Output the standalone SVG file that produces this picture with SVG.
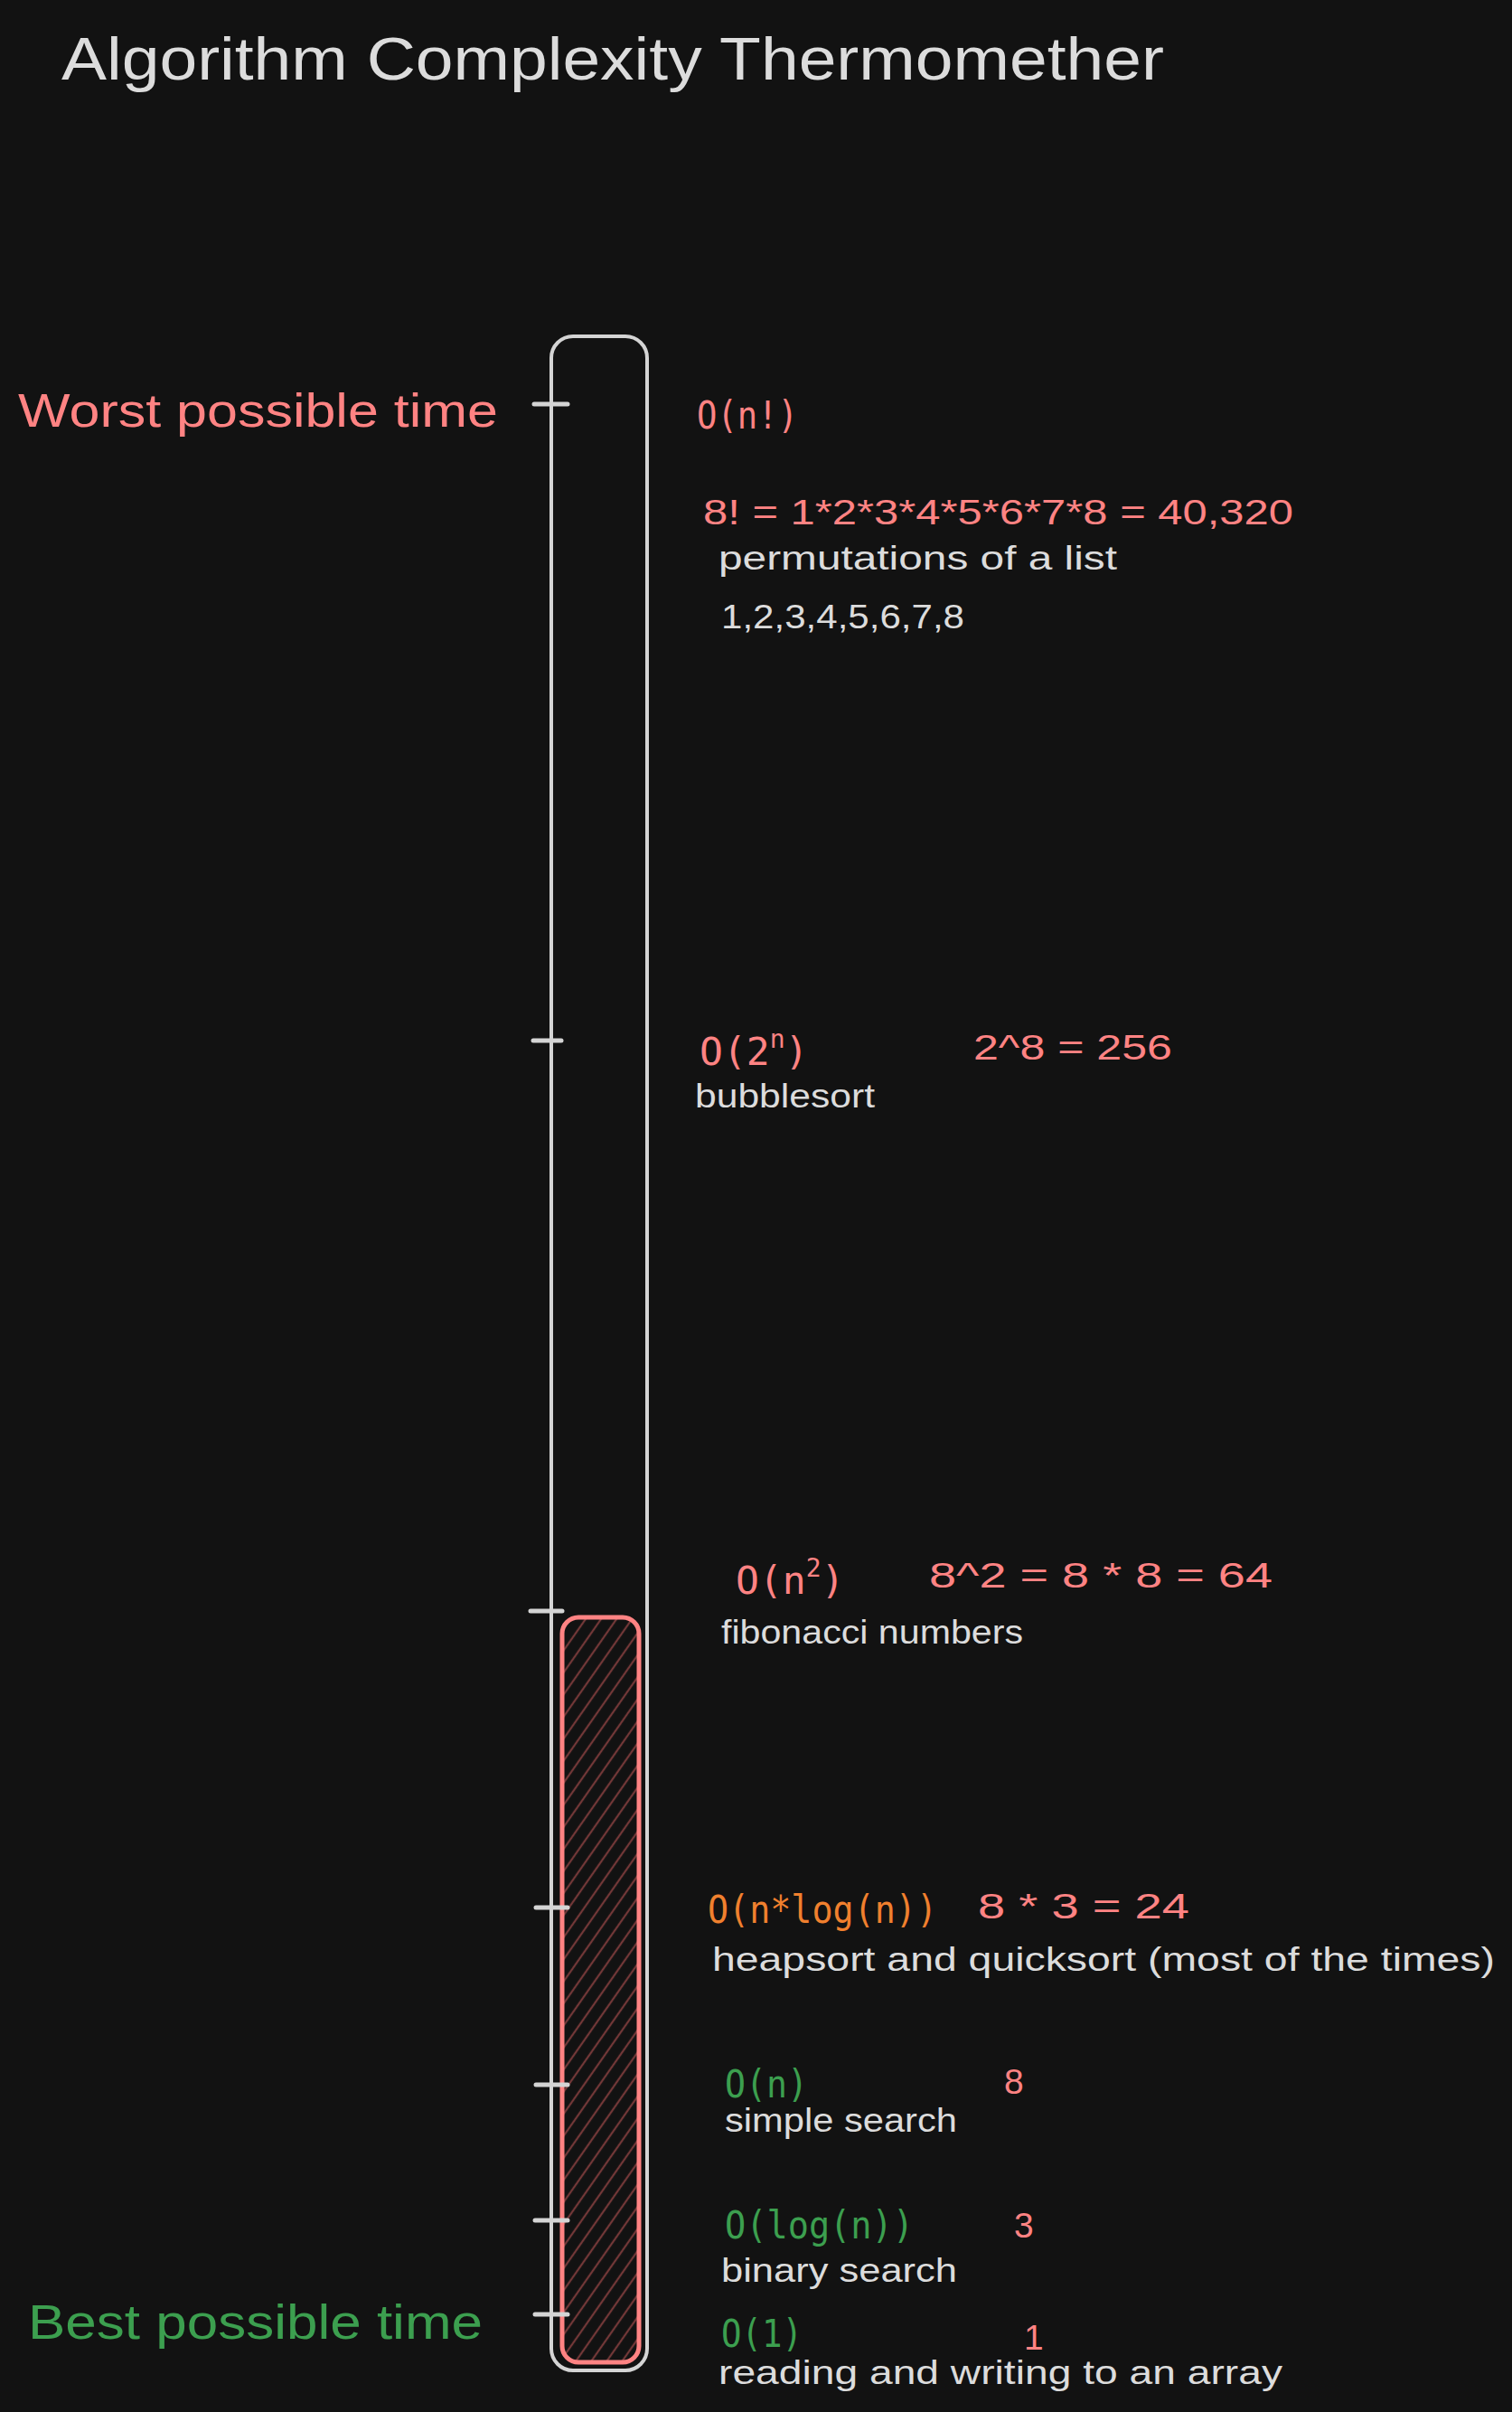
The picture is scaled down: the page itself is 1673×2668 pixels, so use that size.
<svg xmlns="http://www.w3.org/2000/svg" width="1673" height="2668" viewBox="0 0 1673 2668">
<style>
.hand{font-family:"Liberation Sans","DejaVu Sans",sans-serif;}
.mono{font-family:"DejaVu Sans Mono","Liberation Mono",monospace;font-size:43px;}
.red{fill:#ff8383;}
.white{fill:#dcdcdc;}
.green{fill:#3c9f4f;}
.orange{fill:#f0802e;}
.desc{font-size:37px;}
.calc{font-size:39px;}
.tick{stroke:#d4d4d4;stroke-width:5;stroke-linecap:round;}
</style>
<defs>
<pattern id="hatch" width="14" height="14" patternUnits="userSpaceOnUse" patternTransform="rotate(35)">
<line x1="4" y1="0" x2="4" y2="14" stroke="#733838" stroke-width="2.2"/>
</pattern>
</defs>
<rect width="1673" height="2668" fill="#121212"/>
<g id="title">
<text class="hand" x="68" y="88" font-size="66" fill="#dcdcdc" textLength="1220" lengthAdjust="spacingAndGlyphs">Algorithm Complexity Thermomether</text>
</g>
<g id="thermometer">
<rect x="610" y="372" width="106" height="2250" rx="24" fill="none" stroke="#d4d4d4" stroke-width="4"/>
<rect id="mercury" x="622" y="1789" width="85" height="824" rx="18" fill="url(#hatch)" stroke="#ff8383" stroke-width="5"/>
</g>
<g id="ticks">
<line class="tick" x1="591" y1="447" x2="628" y2="447"/>
<line class="tick" x1="590" y1="1151" x2="621" y2="1151"/>
<line class="tick" x1="587" y1="1782" x2="622" y2="1782"/>
<line class="tick" x1="593" y1="2110" x2="628" y2="2110"/>
<line class="tick" x1="593" y1="2306" x2="628" y2="2306"/>
<line class="tick" x1="592" y1="2456" x2="628" y2="2456"/>
<line class="tick" x1="592" y1="2560" x2="628" y2="2560"/>
</g>
<g id="worst-label">
<text class="hand red" x="20" y="472" font-size="52" textLength="531" lengthAdjust="spacingAndGlyphs">Worst possible time</text>
</g>
<g id="best-label">
<text class="hand green" x="31" y="2587" font-size="54" textLength="503" lengthAdjust="spacingAndGlyphs">Best possible time</text>
</g>
<g id="factorial">
<text class="mono red" x="771" y="474" textLength="112" lengthAdjust="spacingAndGlyphs">O(n!)</text>
<text class="hand calc red" x="778" y="580" textLength="653" lengthAdjust="spacingAndGlyphs">8! = 1*2*3*4*5*6*7*8 = 40,320</text>
<text class="hand desc white" x="795" y="630" textLength="441" lengthAdjust="spacingAndGlyphs">permutations of a list</text>
<text class="hand desc white" x="798" y="695" textLength="269" lengthAdjust="spacingAndGlyphs">1,2,3,4,5,6,7,8</text>
</g>
<g id="exponential">
<text class="mono red" x="774" y="1178" font-size="40">O(2<tspan font-size="28" dy="-19">n</tspan><tspan dy="19">)</tspan></text>
<text class="hand calc red" x="1077" y="1172" textLength="220" lengthAdjust="spacingAndGlyphs">2^8 = 256</text>
<text class="hand desc white" x="769" y="1225" textLength="199" lengthAdjust="spacingAndGlyphs">bubblesort</text>
</g>
<g id="quadratic">
<text class="mono red" x="814" y="1763" font-size="40">O(n<tspan font-size="28" dy="-19">2</tspan><tspan dy="19">)</tspan></text>
<text class="hand calc red" x="1028" y="1756" textLength="380" lengthAdjust="spacingAndGlyphs">8^2 = 8 * 8 = 64</text>
<text class="hand desc white" x="798" y="1818" textLength="334" lengthAdjust="spacingAndGlyphs">fibonacci numbers</text>
</g>
<g id="linearithmic">
<text class="mono orange" x="783" y="2127" textLength="254" lengthAdjust="spacingAndGlyphs">O(n*log(n))</text>
<text class="hand calc red" x="1082" y="2122" textLength="234" lengthAdjust="spacingAndGlyphs">8 * 3 = 24</text>
<text class="hand desc white" x="788" y="2180" textLength="866" lengthAdjust="spacingAndGlyphs">heapsort and quicksort (most of the times)</text>
</g>
<g id="linear">
<text class="mono green" x="802" y="2320" textLength="92" lengthAdjust="spacingAndGlyphs">O(n)</text>
<text class="hand calc red" x="1111" y="2316">8</text>
<text class="hand desc white" x="802" y="2358" textLength="257" lengthAdjust="spacingAndGlyphs">simple search</text>
</g>
<g id="logarithmic">
<text class="mono green" x="802" y="2476" textLength="209" lengthAdjust="spacingAndGlyphs">O(log(n))</text>
<text class="hand calc red" x="1122" y="2475">3</text>
<text class="hand desc white" x="798" y="2524" textLength="261" lengthAdjust="spacingAndGlyphs">binary search</text>
</g>
<g id="constant">
<text class="mono green" x="798" y="2596" textLength="90" lengthAdjust="spacingAndGlyphs">O(1)</text>
<text class="hand calc red" x="1133" y="2599">1</text>
<text class="hand desc white" x="795" y="2637" textLength="624" lengthAdjust="spacingAndGlyphs">reading and writing to an array</text>
</g>
<g id="connectors"></g>
</svg>
